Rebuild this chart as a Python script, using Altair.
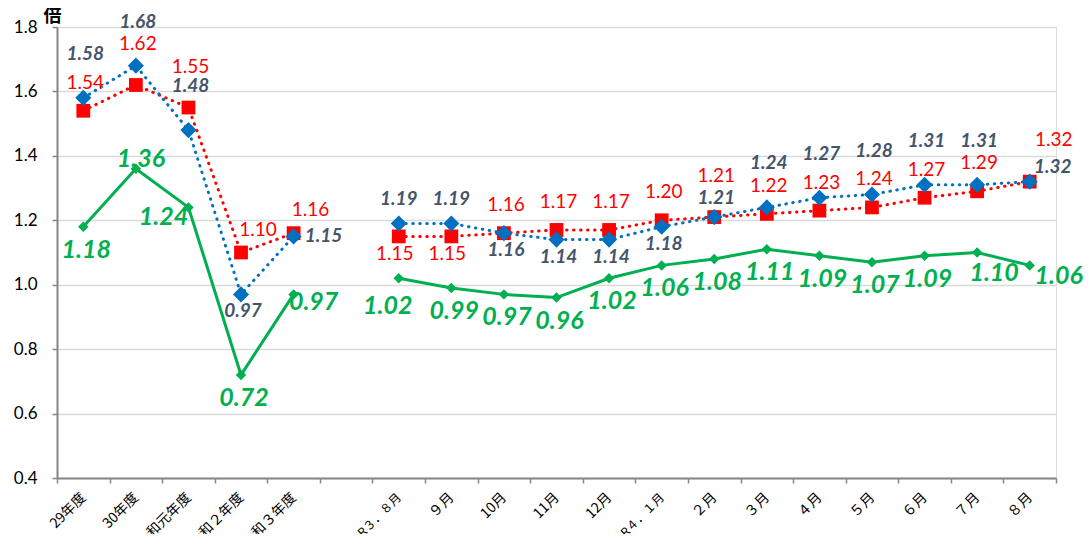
import altair as alt
import pandas as pd

# ---------------- data ----------------
YEAR_CATS = ["29年度", "30年度", "令和元年度", "令和２年度", "令和３年度"]
GAP_CAT = " "
MONTH_CATS = ["R３．８月", "９月", "10月", "11月", "12月", "R４．１月",
              "２月", "３月", "４月", "５月", "６月", "７月", "８月"]
CATEGORIES = YEAR_CATS + [GAP_CAT] + MONTH_CATS

BLUE_YEAR = [1.58, 1.68, 1.48, 0.97, 1.15]
BLUE_MONTH = [1.19, 1.19, 1.16, 1.14, 1.14, 1.18, 1.21, 1.24, 1.27, 1.28, 1.31, 1.31, 1.32]
RED_YEAR = [1.54, 1.62, 1.55, 1.10, 1.16]
RED_MONTH = [1.15, 1.15, 1.16, 1.17, 1.17, 1.20, 1.21, 1.22, 1.23, 1.24, 1.27, 1.29, 1.32]
GREEN_YEAR = [1.18, 1.36, 1.24, 0.72, 0.97]
GREEN_MONTH = [1.02, 0.99, 0.97, 0.96, 1.02, 1.06, 1.08, 1.11, 1.09, 1.07, 1.09, 1.10, 1.06]

# ---------------- label placement (style) ----------------
BLUE_POS = ["hi", "hi", "hi", "dn", "rt", "up", "up", "dn", "dn", "dn", "dn", "up2",
            "hi", "hi", "hi", "hi", "hi", "ur"]
RED_POS = ["up", "hi", "hi", "ur", "ur", "dn", "dn", "up", "up", "up", "up", "hi",
           "up", "up", "up", "up", "up", "ur2"]
GREEN_POS = ["dn", "on", "dl", "dn", "rt", "dl2", "dn", "dn", "dn", "dn", "dn", "dn",
             "dn", "dn", "dn", "dn", "dr", "r"]

BLUE_OFF = {"hi": (2, -44), "up": (0, -25), "up2": (2, -19), "dn": (2, 17),
            "rt": (30, 0), "ur": (23, -15)}
RED_OFF = {"hi": (2, -41), "up": (2, -28), "dn": (-4, 18), "ur": (17, -23), "ur2": (24, -42)}
GREEN_OFF = {"dn": (3, 23), "on": (5, -10), "dl": (-25, 10), "rt": (20, 8),
             "dr": (17, 20), "r": (29, 11), "dl2": (-11, 28)}

BLUE = "#0070C0"
RED = "#FF0000"
GREEN = "#00B050"
BLUE_TXT = "#44546A"

rows = []
for name, yv, mv, pos in [("blue", BLUE_YEAR, BLUE_MONTH, BLUE_POS),
                          ("red", RED_YEAR, RED_MONTH, RED_POS),
                          ("green", GREEN_YEAR, GREEN_MONTH, GREEN_POS)]:
    cats = YEAR_CATS + MONTH_CATS
    vals = yv + mv
    segs = ["year"] * len(YEAR_CATS) + ["month"] * len(MONTH_CATS)
    for c, v, s, p in zip(cats, vals, segs, pos):
        rows.append({"cat": c, "value": v, "series": name, "seg": s, "pos": p})
df = pd.DataFrame(rows)

JP_FONT = "Noto Sans CJK JP"
NUM_FONT = "Lato"

x_enc = alt.X(
    "cat:N",
    sort=CATEGORIES,
    scale=alt.Scale(domain=CATEGORIES, type="band", paddingInner=0, paddingOuter=0),
    axis=alt.Axis(
        title=None, labelAngle=-45, labelAlign="right", labelBaseline="middle",
        labelFont=JP_FONT,
        labelFontSize={"condition": {"test": "indexof(datum.label, 'R') == 0", "value": 12},
                       "value": 14},
        labelColor="#000000", labelPadding=12,
        tickBand="extent", ticks=True, tickSize=5, tickColor="#868686", tickWidth=1.5,
        domainColor="#868686", domainWidth=2, grid=False, labelOverlap=False,
        labelFlush=False, labelLimit=200,
    ),
)
y_enc = alt.Y(
    "value:Q",
    scale=alt.Scale(domain=[0.4, 1.8], nice=False, zero=False),
    axis=alt.Axis(
        title="倍", titleAngle=0, titleX=-5, titleY=-11, titleAlign="center",
        titleBaseline="middle", titleFont=JP_FONT, titleFontSize=18, titleFontWeight="bold",
        titleColor="#000000",
        values=[0.4, 0.6, 0.8, 1.0, 1.2, 1.4, 1.6, 1.8], format=".1f",
        labelFont=NUM_FONT, labelFontSize=17, labelColor="#000000", labelPadding=15,
        ticks=True, tickSize=5, tickColor="#868686", tickWidth=1.5,
        domainColor="#868686", domainWidth=2,
        grid=True, gridColor="#D9D9D9", gridWidth=1.5,
    ),
)

base = alt.Chart(df)


def series_layers(name, color, dotted, shape, size, txt_color, txt_size, bold_italic, offsets):
    d = base.transform_filter(alt.datum.series == name)
    line_kw = dict(color=color, strokeWidth=3)
    if dotted:
        line_kw.update(strokeDash=[0.5, 6.5], strokeCap="round")
    line = d.mark_line(**line_kw).encode(x=x_enc, y=y_enc, detail="seg:N")
    pts = d.mark_point(shape=shape, size=size, filled=True, color=color, opacity=1).encode(
        x=x_enc, y=y_enc)
    layers = [line, pts]
    texts = []
    for code, (dx, dy) in offsets.items():
        kw = dict(color=txt_color, font=NUM_FONT, fontSize=txt_size, dx=dx, dy=dy,
                  align="center", baseline="middle")
        if bold_italic:
            kw.update(fontWeight="bold", fontStyle="italic")
        t = d.transform_filter(alt.datum.pos == code).mark_text(**kw).encode(
            x=x_enc, y=y_enc, text=alt.Text("value:Q", format=".2f"))
        texts.append(t)
    return layers, texts


g_l, g_t = series_layers("green", GREEN, False, "diamond", 110, GREEN, 25, True, GREEN_OFF)
r_l, r_t = series_layers("red", RED, True, "square", 190, RED, 19, False, RED_OFF)
b_l, b_t = series_layers("blue", BLUE, True, "diamond", 260, BLUE_TXT, 19, True, BLUE_OFF)

chart = alt.layer(*(g_l + r_l + b_l + g_t + r_t + b_t)).properties(
    width=999, height=451,
    autosize=alt.AutoSizeParams(type="none"),
    padding={"left": 49, "top": 19, "right": 28, "bottom": 56},
).configure_view(strokeWidth=0).configure(background="white")

chart.save("out.html", embed_options={"renderer": "svg", "actions": False})
